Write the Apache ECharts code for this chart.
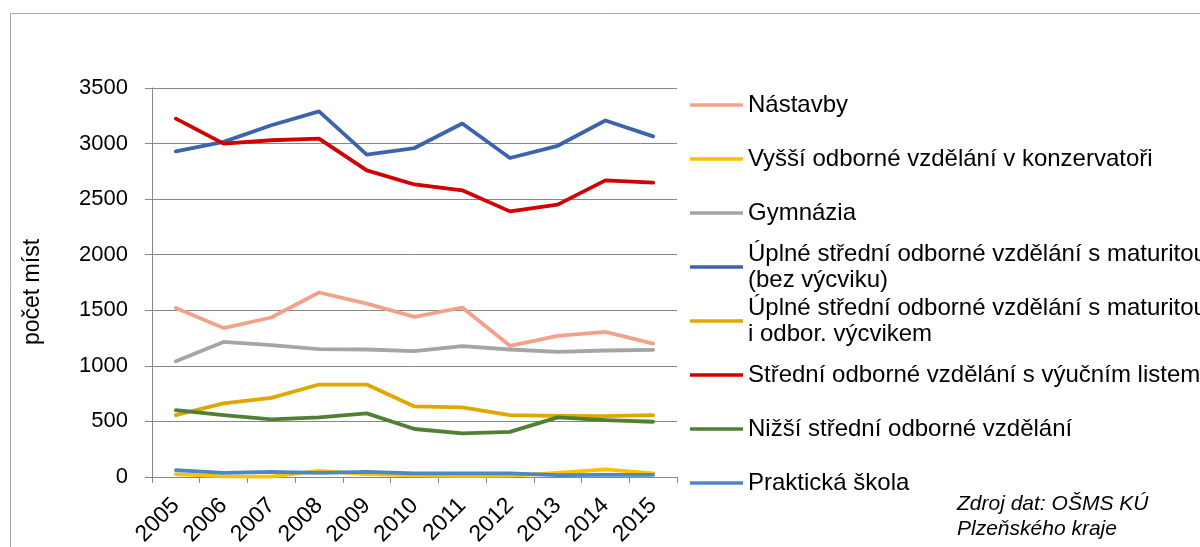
<!DOCTYPE html>
<html>
<head>
<meta charset="utf-8">
<title>počet míst</title>
<script src="https://cdn.jsdelivr.net/npm/echarts@6/dist/echarts.min.js"></script>
<style>
  html, body { margin: 0; padding: 0; background: #fff; }
  #chart { width: 1200px; height: 547px; }
</style>
</head>
<body>
<div id="chart"></div>
<script>
  // roky
  var years = ['2005', '2006', '2007', '2008', '2009', '2010', '2011', '2012', '2013', '2014', '2015'];

  // hodnoty
  var nastavby = [1520, 1340, 1435, 1660, 1560, 1440, 1525, 1180, 1270, 1305, 1200];
  var vyssiKonzervator = [26, 5, 3, 55, 26, 14, 11, 12, 38, 68, 32];
  var gymnazia = [1042, 1215, 1186, 1150, 1147, 1132, 1178, 1147, 1126, 1138, 1144];
  var uplneBezVycviku = [2930, 3015, 3165, 3290, 2900, 2960, 3180, 2870, 2980, 3208, 3065];
  var uplneSVycvikem = [556, 662, 712, 832, 832, 635, 626, 556, 550, 547, 556];
  var stredniVyucni = [3224, 3000, 3030, 3044, 2759, 2632, 2579, 2390, 2451, 2669, 2648];
  var nizsiStredni = [601, 556, 518, 536, 572, 432, 392, 406, 536, 512, 497];
  var prakticka = [62, 38, 47, 38, 47, 32, 32, 32, 17, 20, 20];

  var seriesNames = [
    'Nástavby',
    'Vyšší odborné vzdělání v konzervatoři',
    'Gymnázia',
    'Úplné střední odborné vzdělání s maturitou (bez výcviku)',
    'Úplné střední odborné vzdělání s maturitou i odbor. výcvikem',
    'Střední odborné vzdělání s výučním listem',
    'Nižší střední odborné vzdělání',
    'Praktická škola'
  ];
  var legendLabels = [
    'Nástavby',
    'Vyšší odborné vzdělání v konzervatoři',
    'Gymnázia',
    'Úplné střední odborné vzdělání s maturitou\n(bez výcviku)',
    'Úplné střední odborné vzdělání s maturitou\ni odbor. výcvikem',
    'Střední odborné vzdělání s výučním listem',
    'Nižší střední odborné vzdělání',
    'Praktická škola'
  ];
  var yTicks = { min: 0, max: 3500, interval: 500 };
  var yName = 'počet míst';
  var sourceNote = 'Zdroj dat: OŠMS KÚ\nPlzeňského kraje';

  var allData = [nastavby, vyssiKonzervator, gymnazia, uplneBezVycviku,
                 uplneSVycvikem, stredniVyucni, nizsiStredni, prakticka];
  var colors = ['#F2A28A', '#FFC000', '#A5A5A5', '#3C64AE',
                '#DFA700', '#D20000', '#518034', '#4C88C6'];

  var font = '"Liberation Sans", Arial, sans-serif';
  var lineH = 26;

  var myChart = echarts.init(document.getElementById('chart'));

  var series = seriesNames.map(function (name, i) {
    return {
      name: name,
      type: 'line',
      data: allData[i],
      symbol: 'none',
      z: 2 + i,
      lineStyle: { color: colors[i], width: 3.8, cap: 'round', join: 'round' },
      itemStyle: { color: colors[i] }
    };
  });

  // každá položka legendy zvlášť, ať sedí rozestupy jako v Excelu
  var legends = seriesNames.map(function (name, i) {
    var cy = 105 + i * 54;
    var twoLines = legendLabels[i].indexOf('\n') >= 0;
    return {
      show: true,
      orient: 'vertical',
      left: 690,
      top: twoLines ? cy - lineH * 1.5 : cy - lineH / 2,
      padding: 0,
      selectedMode: false,
      icon: 'rect',
      itemWidth: 53,
      itemHeight: 3.5,
      itemGap: 0,
      data: [name],
      formatter: function () { return legendLabels[i]; },
      textStyle: {
        color: '#000',
        fontFamily: font,
        fontSize: 24,
        lineHeight: lineH,
        padding: twoLines ? [lineH, 0, 0, 0] : 0
      }
    };
  });

  var option = {
    animation: false,
    backgroundColor: '#fff',
    grid: { left: 152, right: 523, top: 88, bottom: 70, outerBoundsMode: 'none', containLabel: false },
    legend: legends,
    xAxis: {
      type: 'category',
      data: years,
      boundaryGap: true,
      axisLine: { lineStyle: { color: '#868686', width: 1 } },
      axisTick: { show: true, length: 6, lineStyle: { color: '#868686' } },
      axisLabel: {
        rotate: 45,
        margin: 25,
        color: '#000',
        fontFamily: font,
        fontSize: 23,
        interval: 0
      }
    },
    yAxis: {
      type: 'value',
      min: yTicks.min,
      max: yTicks.max,
      interval: yTicks.interval,
      axisLine: { show: true, lineStyle: { color: '#868686', width: 1 } },
      axisTick: { show: true, length: 7, lineStyle: { color: '#868686' } },
      splitLine: { lineStyle: { color: '#868686', width: 1 } },
      axisLabel: {
        margin: 24,
        color: '#000',
        fontFamily: font,
        fontSize: 22,
        formatter: function (v) { return String(v); }
      }
    },
    graphic: [
      {
        type: 'rect',
        silent: true,
        shape: { x: 10.5, y: 13.5, width: 1400, height: 700 },
        style: { fill: 'none', stroke: '#A6A6A6', lineWidth: 1 }
      },
      {
        type: 'text',
        x: 33,
        y: 292,
        rotation: Math.PI / 2,
        style: {
          text: yName,
          fill: '#000',
          font: '23px ' + font,
          align: 'center',
          verticalAlign: 'middle'
        }
      },
      {
        type: 'text',
        left: 957,
        top: 492,
        style: {
          text: sourceNote,
          fill: '#000',
          font: 'italic 21px ' + font,
          lineHeight: 25
        }
      }
    ],
    series: series
  };

  myChart.setOption(option);
</script>
</body>
</html>
